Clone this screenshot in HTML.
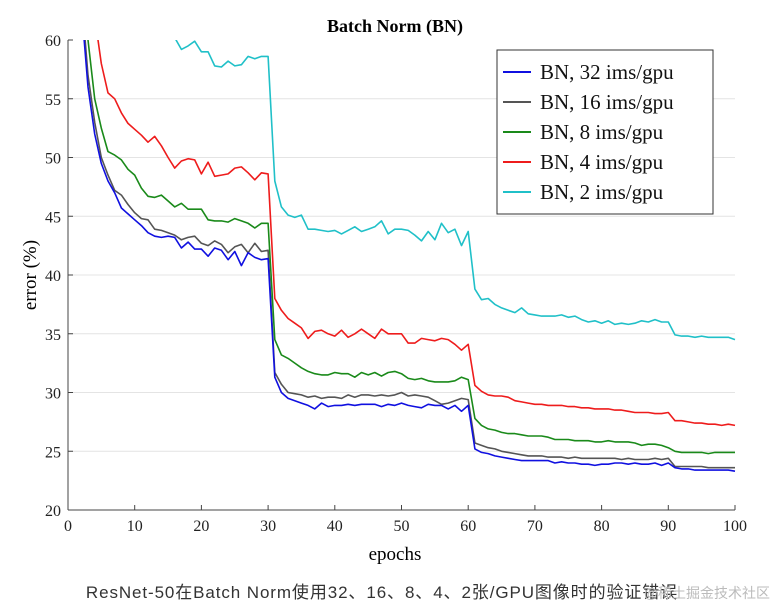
<!DOCTYPE html>
<html><head><meta charset="utf-8"><style>
body{margin:0;background:#fff;width:775px;height:607px;overflow:hidden}
</style></head><body>
<svg id="chart" width="775" height="607" xmlns="http://www.w3.org/2000/svg">
<defs><clipPath id="plotclip"><rect x="68" y="40" width="668" height="470"/></clipPath></defs>
<g id="grid"></g>
<g id="series" clip-path="url(#plotclip)"></g>
<g id="axes"></g>
<text x="395" y="32" text-anchor="middle" font-family="Liberation Serif, serif" font-weight="bold" font-size="18">Batch Norm (BN)</text>
<text transform="translate(36,275) rotate(-90)" text-anchor="middle" font-family="Liberation Serif, serif" font-size="19">error (%)</text>
<text x="395" y="560" text-anchor="middle" font-family="Liberation Serif, serif" font-size="19">epochs</text>
<g id="legend"></g>
<text x="382" y="598" text-anchor="middle" font-family="Liberation Sans, 'Noto Sans CJK SC', sans-serif" font-size="17" letter-spacing="0.9" fill="#333">ResNet-50在Batch Norm使用32、16、8、4、2张/GPU图像时的验证错误</text>
<text x="770" y="598" text-anchor="end" font-family="Liberation Sans, 'Noto Sans CJK SC', sans-serif" font-size="14" fill="#bbb">@稀土掘金技术社区</text>
</svg>
<script>
const xTicks=[0,10,20,30,40,50,60,70,80,90,100];
const yTicks=[20,25,30,35,40,45,50,55,60];
const seriesNames=["BN, 32 ims/gpu","BN, 16 ims/gpu","BN, 8 ims/gpu","BN, 4 ims/gpu","BN, 2 ims/gpu"];
const seriesColors=["#1010e0","#555555","#1a8a1a","#ee1c1c","#20c0c8"];
const bn32=[75,63,56,52,49.5,48,47,45.7,45.2,44.7,44.2,43.6,43.3,43.2,43.3,43.2,42.3,42.8,42.2,42.2,41.6,42.3,42.1,41.3,42.0,40.8,41.9,41.5,41.3,41.4,31.3,30.0,29.5,29.3,29.1,28.9,28.6,29.1,28.8,28.9,28.9,29.0,28.9,29.0,29.0,29.0,28.8,29.0,28.9,29.1,28.9,28.8,28.7,29.0,28.9,28.9,28.6,28.9,28.4,28.9,25.2,24.9,24.8,24.6,24.5,24.4,24.3,24.2,24.2,24.2,24.2,24.2,24.0,24.1,24.0,24.0,23.9,23.9,23.8,23.9,23.9,24.0,24.0,23.9,24.0,23.9,23.9,24.0,23.8,24.0,23.6,23.5,23.5,23.4,23.4,23.4,23.4,23.4,23.4,23.3];
const bn16=[75,64,57,53,50,48.5,47.2,46.8,46,45.3,44.8,44.7,43.9,43.8,43.6,43.4,43.0,43.2,43.3,42.7,42.5,42.9,42.6,41.9,42.4,42.6,41.9,42.7,42.0,42.1,31.7,30.7,30.0,29.9,29.8,29.6,29.7,29.5,29.6,29.6,29.5,29.8,29.6,29.8,29.8,29.7,29.8,29.7,29.8,30.0,29.7,29.8,29.7,29.6,29.3,29.0,29.1,29.3,29.5,29.4,25.7,25.5,25.3,25.2,25.0,24.9,24.8,24.7,24.6,24.6,24.6,24.5,24.5,24.5,24.4,24.5,24.4,24.4,24.4,24.4,24.4,24.4,24.3,24.4,24.3,24.3,24.3,24.4,24.3,24.4,23.7,23.7,23.7,23.7,23.7,23.6,23.6,23.6,23.6,23.6];
const bn8=[80,65,60,55,52.5,50.5,50.2,49.8,49,48.5,47.4,46.7,46.6,46.8,46.3,45.8,46.1,45.6,45.6,45.6,44.7,44.6,44.6,44.5,44.8,44.6,44.4,44.0,44.4,44.4,34.5,33.2,32.9,32.5,32.1,31.8,31.6,31.5,31.5,31.7,31.6,31.6,31.3,31.7,31.5,31.7,31.4,31.7,31.8,31.6,31.2,31.1,31.2,31.0,30.9,30.9,30.9,31.0,31.3,31.1,27.8,27.2,26.9,26.8,26.6,26.5,26.5,26.4,26.3,26.3,26.3,26.2,26.0,26.0,26.0,25.9,25.9,25.9,25.8,25.8,25.9,25.8,25.8,25.8,25.7,25.5,25.6,25.6,25.5,25.3,25.0,24.9,24.9,24.9,24.9,24.8,24.9,24.9,24.9,24.9];
const bn4=[85,75,68,62,58,55.5,55,53.8,52.9,52.4,51.9,51.3,51.8,51.0,50.0,49.1,49.7,49.9,49.8,48.6,49.6,48.4,48.5,48.6,49.1,49.2,48.7,48.1,48.7,48.6,38.0,37.0,36.3,35.9,35.5,34.6,35.2,35.3,35.0,34.8,35.3,34.7,35.0,35.4,35.0,34.6,35.4,35.0,35.0,35.0,34.2,34.2,34.6,34.5,34.4,34.6,34.5,34.1,33.6,34.1,30.6,30.1,29.8,29.7,29.7,29.6,29.3,29.2,29.1,29.0,29.0,28.9,28.9,28.9,28.8,28.8,28.7,28.7,28.6,28.6,28.6,28.5,28.5,28.4,28.3,28.3,28.3,28.2,28.2,28.3,27.6,27.6,27.5,27.4,27.4,27.3,27.3,27.2,27.3,27.2];
const bn2=[90,88,86,84,82,80,78,76,74,72,70,68,66,64,62,60.2,59.2,59.5,59.9,59.0,59.0,57.8,57.7,58.2,57.8,57.9,58.6,58.4,58.6,58.6,48.0,45.8,45.1,44.9,45.1,43.9,43.9,43.8,43.7,43.8,43.5,43.8,44.1,43.7,43.9,44.1,44.6,43.5,43.9,43.9,43.8,43.4,42.9,43.7,43.0,44.4,43.6,43.9,42.5,43.7,38.8,37.9,38.0,37.5,37.2,37.0,36.8,37.2,36.7,36.6,36.5,36.5,36.5,36.6,36.4,36.5,36.2,36.0,36.1,35.9,36.1,35.8,35.9,35.8,35.9,36.1,36.0,36.2,36.0,36.0,34.9,34.8,34.8,34.7,34.8,34.7,34.7,34.7,34.7,34.5];
const allSeries=[bn32,bn16,bn8,bn4,bn2];
const NS="http://www.w3.org/2000/svg";
const X0=68,X1=735,Y0=510,Y1=40;
function xs(v){return X0+(v-0)/100*(X1-X0);}
function ys(v){return Y0-(v-20)/40*(Y0-Y1);}
function mk(tag,attrs,parent){const e=document.createElementNS(NS,tag);for(const k in attrs)e.setAttribute(k,attrs[k]);parent.appendChild(e);return e;}
const grid=document.getElementById('grid'),axes=document.getElementById('axes'),ser=document.getElementById('series'),leg=document.getElementById('legend');
yTicks.forEach(t=>{
  if(t>20&&t<60){const g=mk('line',{x1:X0,x2:X1,y1:ys(t),y2:ys(t),stroke:'#e4e4e4','stroke-width':1},grid);
  
  }
  const tl=mk('text',{x:X0-7,y:ys(t)+6,'text-anchor':'end','font-family':'Liberation Serif, serif','font-size':16,fill:'#222'},axes);
  tl.textContent=t;
  
  
  mk('line',{x1:X0,x2:X0+5,y1:ys(t),y2:ys(t),stroke:'#444'},axes);
});
xTicks.forEach(t=>{
  const tl=mk('text',{x:xs(t),y:Y0+21,'text-anchor':'middle','font-family':'Liberation Serif, serif','font-size':16,fill:'#222'},axes);
  tl.textContent=t;
  
  
  mk('line',{x1:xs(t),x2:xs(t),y1:Y0,y2:Y0-5,stroke:'#444'},axes);
});
mk('line',{x1:X0,x2:X0,y1:Y1,y2:Y0,stroke:'#444','stroke-width':1},axes);
mk('line',{x1:X0,x2:X1,y1:Y0,y2:Y0,stroke:'#444','stroke-width':1},axes);
for(let s=allSeries.length-1;s>=0;s--){
  const d=allSeries[s].map((v,i)=>(i?'L':'M')+xs(i+1).toFixed(1)+','+ys(v).toFixed(1)).join(' ');
  const p=mk('path',{d:d,fill:'none',stroke:seriesColors[s],'stroke-width':1.6,'stroke-linejoin':'round'},ser);
  
  
}
const box=mk('rect',{x:497,y:50,width:216,height:164,fill:'#fff',stroke:'#333','stroke-width':1},leg);


seriesNames.forEach((n,i)=>{
  const y=72+i*30;
  const g=mk('g',{},leg);
  
  
  mk('line',{x1:503,x2:531,y1:y,y2:y,stroke:seriesColors[i],'stroke-width':2},g);
  const t=mk('text',{x:540,y:y+7,'font-family':'Liberation Serif, serif','font-size':21,fill:'#111'},g);
  t.textContent=n;
});
</script>
</body></html>
